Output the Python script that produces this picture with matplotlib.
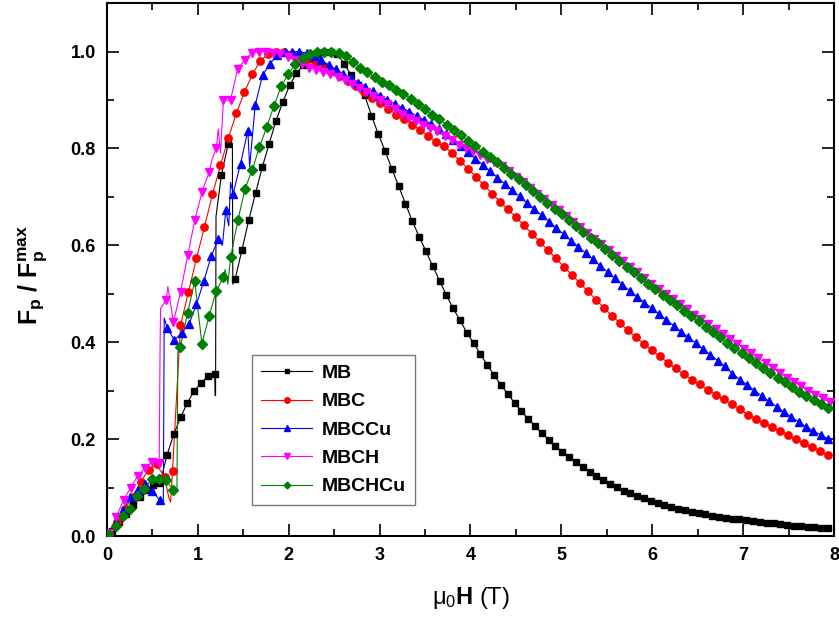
import numpy as np
import matplotlib
matplotlib.use('Agg')
from matplotlib import pyplot as plt
from matplotlib.ticker import MultipleLocator

plt.rcParams['font.family'] = ['Liberation Sans', 'DejaVu Sans']
plt.rcParams['mathtext.fontset'] = 'custom'
plt.rcParams['mathtext.rm'] = 'Liberation Sans'
plt.rcParams['mathtext.it'] = 'Liberation Sans'
plt.rcParams['mathtext.bf'] = 'Liberation Sans:bold'

# field grid of the symbols: first field and spacing (T)
mb_h0, mb_dh = 0.06, 0.075
mbc_h0, mbc_dh = 0.018, 0.0879
mbccu_h0, mbccu_dh = 0.015, 0.0808
mbch_h0, mbch_dh = 0.025, 0.0785
mbchcu_h0, mbchcu_dh = 0.015, 0.0792

# normalised pinning force read at each symbol
mb_f = [0.01, 0.03, 0.045, 0.065, 0.08, 0.095, 0.105, 0.11, 0.167, 0.21,
        0.245, 0.275, 0.30, 0.315, 0.33, 0.335, 0.746, 0.81, 0.53, 0.59,
        0.652, 0.708, 0.762, 0.81, 0.857, 0.896, 0.93, 0.955, 0.972, 0.985,
        0.994, 0.999, 1.0, 0.995, 0.975, 0.952, 0.93, 0.91, 0.868, 0.83,
        0.795, 0.758, 0.722, 0.686, 0.65, 0.618, 0.588, 0.557, 0.527, 0.497,
        0.47, 0.445, 0.42, 0.398, 0.375, 0.353, 0.332, 0.312, 0.293, 0.275,
        0.258, 0.242, 0.227, 0.212, 0.199, 0.186, 0.174, 0.163, 0.152, 0.142,
        0.133, 0.124, 0.116, 0.108, 0.101, 0.094, 0.088, 0.083, 0.078, 0.073,
        0.068, 0.064, 0.06, 0.056, 0.053, 0.05, 0.047, 0.045, 0.042, 0.04,
        0.038, 0.036, 0.035, 0.033, 0.031, 0.029, 0.027, 0.026, 0.024, 0.023,
        0.021, 0.02, 0.019, 0.018, 0.017, 0.016]
mbc_f = [0.005, 0.03, 0.055, 0.08, 0.112, 0.136, 0.148, 0.122, 0.135, 0.435,
         0.504, 0.573, 0.638, 0.705, 0.765, 0.822, 0.873, 0.916, 0.953, 0.981,
         0.995, 1.0, 0.999, 0.995, 0.99, 0.984, 0.977, 0.969, 0.96, 0.95,
         0.94, 0.929, 0.917, 0.905, 0.893, 0.882, 0.87, 0.86, 0.849, 0.838,
         0.826, 0.813, 0.805, 0.79, 0.774, 0.758, 0.741, 0.724, 0.707, 0.69,
         0.674, 0.658, 0.641, 0.624, 0.607, 0.59, 0.573, 0.556, 0.539, 0.522,
         0.505, 0.488, 0.471, 0.455, 0.44, 0.425, 0.41, 0.397, 0.384, 0.371,
         0.358, 0.346, 0.334, 0.323, 0.313, 0.302, 0.292, 0.282, 0.272, 0.263,
         0.25, 0.242, 0.234, 0.226, 0.217, 0.209, 0.2, 0.192, 0.184, 0.176,
         0.168]
mbccu_f = [0.005, 0.03, 0.054, 0.08, 0.096, 0.107, 0.093, 0.074, 0.43, 0.404,
           0.42, 0.438, 0.478, 0.526, 0.577, 0.614, 0.672, 0.707, 0.768, 0.837,
           0.889, 0.951, 0.975, 0.992, 0.999, 1.0, 1.0, 0.997, 0.99, 0.982,
           0.973, 0.963, 0.954, 0.945, 0.936, 0.927, 0.918, 0.909, 0.9, 0.892,
           0.884, 0.876, 0.867, 0.859, 0.85, 0.84, 0.83, 0.818, 0.805, 0.792,
           0.779, 0.766, 0.753, 0.74, 0.727, 0.714, 0.701, 0.688, 0.675, 0.662,
           0.649, 0.636, 0.623, 0.61, 0.597, 0.584, 0.571, 0.558, 0.545, 0.532,
           0.519, 0.506, 0.494, 0.482, 0.47, 0.458, 0.446, 0.434, 0.422, 0.41,
           0.398, 0.386, 0.374, 0.362, 0.35, 0.335, 0.323, 0.312, 0.3, 0.289,
           0.278, 0.267, 0.256, 0.246, 0.236, 0.226, 0.217, 0.209, 0.201]
mbch_f = [0.007, 0.04, 0.074, 0.1, 0.124, 0.14, 0.153, 0.15, 0.487, 0.442,
          0.504, 0.58, 0.652, 0.71, 0.751, 0.80, 0.899, 0.90, 0.964, 0.983,
          0.997, 1.0, 1.0, 0.998, 0.994, 0.989, 0.982, 0.974, 0.967, 0.962,
          0.957, 0.953, 0.947, 0.941, 0.933, 0.925, 0.917, 0.908, 0.9, 0.891,
          0.881, 0.871, 0.863, 0.856, 0.849, 0.842, 0.835, 0.826, 0.817, 0.808,
          0.8, 0.795, 0.787, 0.779, 0.771, 0.763, 0.753, 0.742, 0.73, 0.719,
          0.707, 0.695, 0.684, 0.672, 0.661, 0.649, 0.637, 0.626, 0.614, 0.602,
          0.591, 0.579, 0.568, 0.556, 0.544, 0.533, 0.521, 0.51, 0.499, 0.489,
          0.478, 0.468, 0.457, 0.447, 0.437, 0.427, 0.417, 0.407, 0.397, 0.387,
          0.377, 0.367, 0.357, 0.347, 0.337, 0.327, 0.318, 0.309, 0.3, 0.292,
          0.284, 0.276]
mbchcu_f = [0.005, 0.021, 0.041, 0.055, 0.082, 0.098, 0.117, 0.117, 0.115, 0.096,
            0.39, 0.46, 0.526, 0.397, 0.454, 0.506, 0.535, 0.576, 0.652, 0.717,
            0.756, 0.803, 0.844, 0.887, 0.928, 0.953, 0.975, 0.987, 0.995, 0.999,
            1.0, 1.0, 0.997, 0.99, 0.979, 0.967, 0.957, 0.947, 0.938, 0.93,
            0.921, 0.913, 0.903, 0.892, 0.881, 0.87, 0.86, 0.849, 0.838, 0.827,
            0.816, 0.805, 0.793, 0.782, 0.771, 0.76, 0.748, 0.736, 0.724, 0.712,
            0.7, 0.688, 0.676, 0.664, 0.652, 0.64, 0.628, 0.616, 0.604, 0.592,
            0.58, 0.568, 0.556, 0.544, 0.532, 0.521, 0.51, 0.498, 0.487, 0.476,
            0.465, 0.454, 0.443, 0.432, 0.421, 0.41, 0.399, 0.388, 0.378, 0.367,
            0.357, 0.347, 0.337, 0.327, 0.317, 0.307, 0.298, 0.289, 0.28, 0.272,
            0.264]

# extra points of the measured line between symbols (flux jumps)
mb_xh = [0.0, 1.19, 1.195, 1.20, 1.38, 1.385]
mb_xf = [0.0, 0.29, 0.29, 0.66, 0.81, 0.52]
mbc_xh = [0.0, 0.68, 0.70]
mbc_xf = [0.0, 0.08, 0.07]
mbccu_xh = [0.0, 0.62, 0.63, 1.27, 1.34, 1.36, 1.57]
mbccu_xf = [0.0, 0.07, 0.45, 0.60, 0.64, 0.73, 0.762]
mbch_xh = [0.0, 0.585, 0.59, 0.67, 1.16, 1.225, 1.25]
mbch_xf = [0.0, 0.40, 0.47, 0.515, 0.78, 0.84, 0.79]
mbchcu_xh = [0.0, 0.77, 0.78, 1.30, 1.33]
mbchcu_xf = [0.0, 0.095, 0.38, 0.55, 0.52]

labels = ['MB', 'MBC', 'MBCCu', 'MBCH', 'MBCHCu']

series = [
    (mb_h0, mb_dh, mb_f, mb_xh, mb_xf, 'black', 's', 4.6),
    (mbc_h0, mbc_dh, mbc_f, mbc_xh, mbc_xf, 'red', 'o', 5.3),
    (mbccu_h0, mbccu_dh, mbccu_f, mbccu_xh, mbccu_xf, 'blue', '^', 5.8),
    (mbch_h0, mbch_dh, mbch_f, mbch_xh, mbch_xf, 'magenta', 'v', 5.8),
    (mbchcu_h0, mbchcu_dh, mbchcu_f, mbchcu_xh, mbchcu_xf, '#008000', 'D', 4.6),
]

fig = plt.figure(figsize=(8.39, 6.19), dpi=100)
ax = fig.add_axes([0.1275, 0.134, 0.8665, 0.861])

for (h0, dh, f, xh, xf, c, m, ms), lab in zip(series, labels):
    h = h0 + dh * np.arange(len(f))
    f = np.asarray(f)
    # line through symbols and the extra points
    lh = np.concatenate([h, xh])
    lf = np.concatenate([f, xf])
    order = np.argsort(lh, kind='stable')
    ax.plot(lh[order], lf[order], '-', color=c, lw=0.8, zorder=2)
    ax.plot(h, f, ls='none', marker=m, color=c, ms=ms, mec=c, zorder=3)
    # legend proxy
    ax.plot([], [], '-', color=c, lw=0.8, marker=m, ms=ms * 0.75, label=lab)

ax.set_xlim(0, 8)
ax.set_ylim(0, 1.1)
ax.xaxis.set_major_locator(MultipleLocator(1))
ax.xaxis.set_minor_locator(MultipleLocator(0.5))
ax.yaxis.set_major_locator(MultipleLocator(0.2))
ax.yaxis.set_minor_locator(MultipleLocator(0.1))
ax.set_yticks([0.0, 0.2, 0.4, 0.6, 0.8, 1.0])
ax.set_yticklabels(['0.0', '0.2', '0.4', '0.6', '0.8', '1.0'])

ax.tick_params(which='both', direction='in', top=True, right=True,
               width=1.2, labelsize=13)
ax.tick_params(which='major', length=8.5, pad=8)
ax.tick_params(which='minor', length=5)
for lbl in ax.get_xticklabels() + ax.get_yticklabels():
    lbl.set_fontweight('bold')
for sp in ax.spines.values():
    sp.set_linewidth(1.5)

ax.set_xlabel(r'$\mu_0\mathbf{H}$ (T)', fontsize=17, labelpad=15)
ax.set_ylabel(r'$\mathbf{F_p\ /\ F_p^{max}}$', fontsize=18, labelpad=12)
ax.yaxis.set_label_coords(-0.078, 0.49)

leg = ax.legend(loc='upper left', bbox_to_anchor=(0.199, 0.34),
                borderaxespad=0, fancybox=False, edgecolor='#555555',
                fontsize=14, handlelength=2.6, labelspacing=0.55,
                borderpad=0.5, handletextpad=0.5)
leg.get_frame().set_linewidth(1.0)
for t in leg.get_texts():
    t.set_fontweight('bold')

fig.savefig('out.png', dpi=100)
